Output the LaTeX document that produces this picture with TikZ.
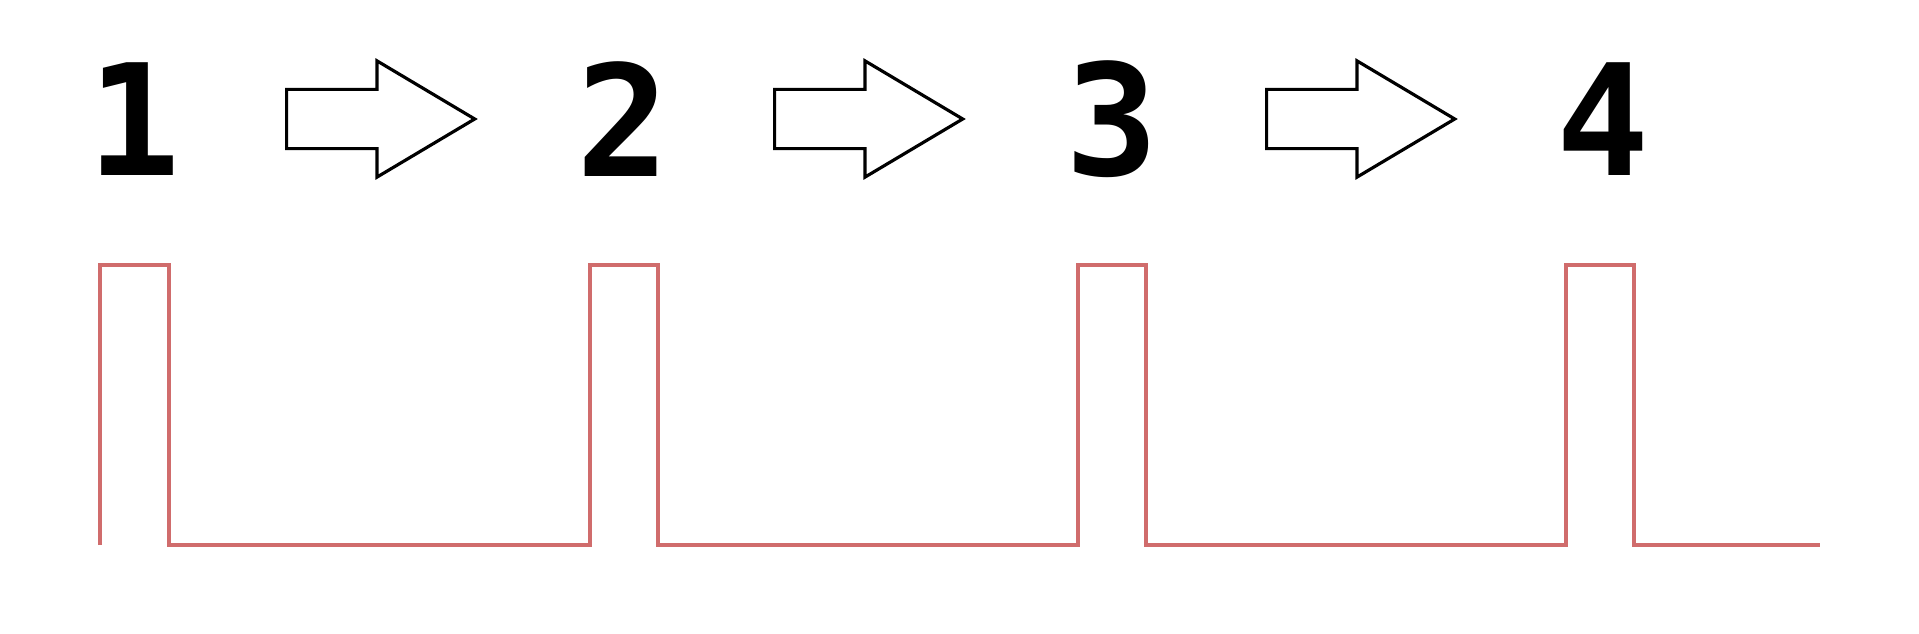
\documentclass[tikz,border=0pt]{standalone}
\usepackage{fontspec}
\setmainfont{DejaVu Sans Mono}
\usetikzlibrary{shapes.arrows,positioning}

\definecolor{pulsered}{RGB}{208,108,108}
\tikzset{digit/.style={font=\fontsize{44}{44}\selectfont\bfseries, inner sep=0pt},
  blockarrow/.style={draw, line width=0.9pt, single arrow, anchor=tail, inner xsep=0pt, inner ysep=0.28cm,
    single arrow head extend=0.285cm, single arrow tip angle=61.5,
    minimum height=1.88cm},
  pulse/.style={pulsered, line width=1.4pt}}

\begin{document}
\begin{tikzpicture}[x=0.01cm, y=-0.01cm]
\useasboundingbox (0,0) rectangle (1919,634);
\node[digit] (d1) at (134,119) {1};
\node[digit] (d2) at (623,119) {2};
\node[digit] (d3) at (1112,119) {3};
\node[digit] (d4) at (1603,119) {4};
\node[blockarrow] (a1) at (285,119) {};
\node[blockarrow] (a2) at (773,119) {};
\node[blockarrow] (a3) at (1265,119) {};
\draw[pulse] (100,545) -- (100,265) -- (169,265) -- (169,545)
  -- (590,545) -- (590,265) -- (658,265) -- (658,545)
  -- (1078,545) -- (1078,265) -- (1146,265) -- (1146,545)
  -- (1566,545) -- (1566,265) -- (1634,265) -- (1634,545) -- (1820,545);
\end{tikzpicture}
\end{document}
